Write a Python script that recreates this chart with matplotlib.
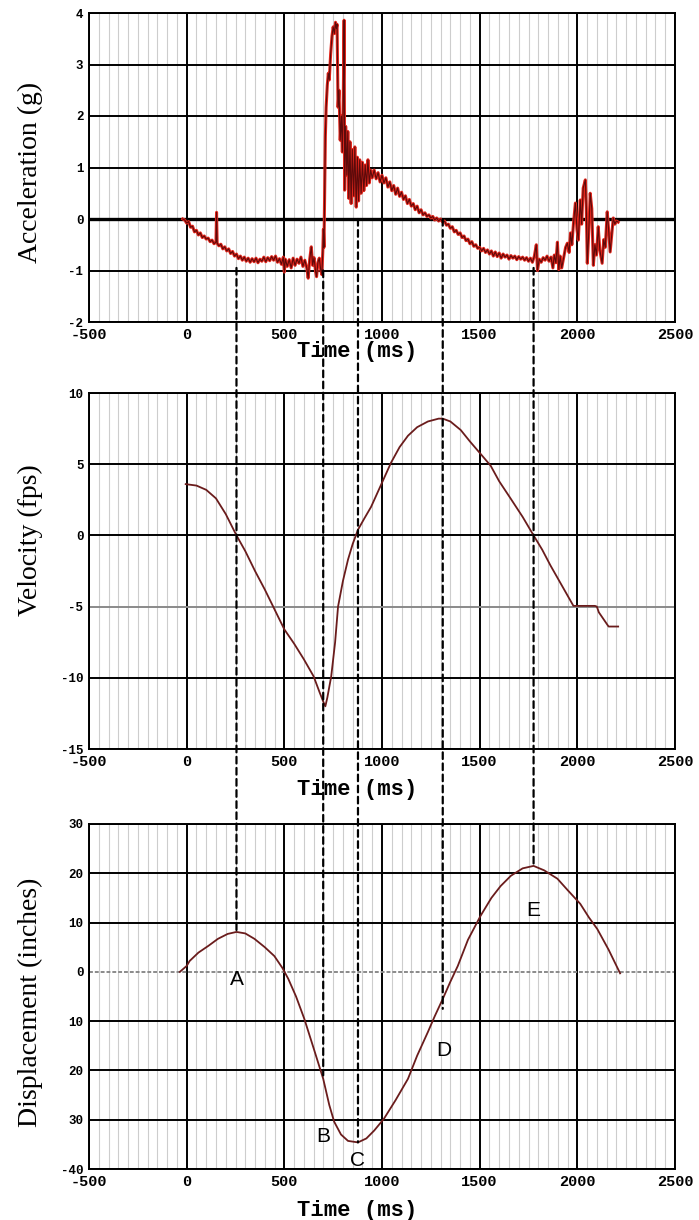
import matplotlib
matplotlib.use("Agg")
import matplotlib.pyplot as plt
from matplotlib.ticker import MultipleLocator
from matplotlib.patches import ConnectionPatch

# styling
plt.rcParams["axes.unicode_minus"] = False
SERIF = "Liberation Serif"
MONO = "Liberation Mono"
SANS = "Liberation Sans"
RED = "#e3261c"
DARK_RED = "#5c0a0a"
MAROON = "#6a1c1c"
GRID_MINOR = "#cdcdcd"

# acceleration trace (ms, g)
acc_t = [-20, -10, 0, 10, 20, 30, 40, 50, 60, 70, 80, 90, 100, 110, 120, 130, 140, 150, 153, 156,
         165, 175, 185, 195, 205, 215, 225, 235, 245, 255, 265, 275, 285, 295, 305, 315, 325, 335,
         345, 355, 365, 375, 385, 395, 405, 415, 425, 435, 445, 455, 465, 475, 485, 495, 500, 505,
         515, 525, 535, 545, 555, 565, 575, 585, 595, 605, 615, 622, 630, 638, 645, 652, 660, 665,
         672, 679, 686, 692, 697, 700, 703, 706, 710, 714, 720, 725, 730, 737, 744, 750, 756, 762,
         766, 770, 775, 780, 786, 792, 797, 802, 806, 809, 814, 820, 825, 830, 836, 842, 848, 855,
         861, 868, 874, 880, 886, 893, 900, 907, 914, 921, 928, 935, 942, 950, 960, 970, 980, 990,
         1000, 1010, 1020, 1030, 1040, 1050, 1060, 1070, 1080, 1090, 1100, 1110, 1120, 1130, 1140,
         1150, 1160, 1170, 1180, 1190, 1200, 1210, 1220, 1230, 1240, 1250, 1260, 1270, 1280, 1290,
         1300, 1310, 1320, 1330, 1340, 1350, 1360, 1370, 1380, 1390, 1400, 1410, 1420, 1430, 1440,
         1450, 1460, 1470, 1480, 1490, 1500, 1510, 1520, 1530, 1540, 1550, 1560, 1570, 1580, 1590,
         1600, 1610, 1620, 1630, 1640, 1650, 1660, 1670, 1680, 1690, 1700, 1710, 1720, 1730, 1740,
         1750, 1760, 1770, 1780, 1790, 1796, 1805, 1815, 1825, 1835, 1845, 1855, 1865, 1875, 1882,
         1890, 1898, 1905, 1912, 1920, 1930, 1940, 1949, 1958, 1965, 1972, 1980, 1990, 1998, 2005,
         2015, 2022, 2030, 2041, 2046, 2051, 2058, 2066, 2074, 2082, 2090, 2098, 2107, 2115, 2127,
         2135, 2143, 2153, 2160, 2168, 2176, 2184, 2192, 2200, 2209]
acc_g = [0.00, -0.02, -0.08, -0.05, -0.16, -0.14, -0.25, -0.22, -0.31, -0.27, -0.36, -0.33, -0.39,
         -0.37, -0.44, -0.41, -0.48, -0.45, 0.13, -0.47, -0.52, -0.49, -0.58, -0.54, -0.62, -0.58,
         -0.67, -0.63, -0.72, -0.68, -0.77, -0.72, -0.80, -0.74, -0.82, -0.76, -0.84, -0.77, -0.83,
         -0.76, -0.85, -0.78, -0.82, -0.74, -0.83, -0.75, -0.81, -0.73, -0.80, -0.72, -0.84, -0.77,
         -0.88, -0.74, -1.03, -0.78, -0.92, -0.79, -0.95, -0.76, -0.90, -0.78, -0.86, -0.74, -0.92,
         -0.80, -0.95, -1.15, -0.78, -0.54, -0.90, -0.75, -1.02, -1.12, -0.84, -0.76, -0.98, -1.08,
         -0.62, -0.20, -0.55, 0.40, 1.60, 2.17, 2.60, 2.83, 2.70, 3.20, 3.55, 3.73, 3.60, 3.82, 3.70,
         3.78, 2.17, 2.50, 1.53, 2.00, 1.30, 2.40, 3.86, 0.56, 1.80, 0.85, 1.70, 0.40, 1.50, 0.30,
         1.35, 0.45, 1.40, 0.23, 1.20, 0.35, 1.15, 0.50, 1.10, 0.55, 1.05, 0.65, 1.15, 0.70, 0.95,
         0.80, 0.95, 0.78, 0.90, 0.72, 0.85, 0.70, 0.80, 0.62, 0.72, 0.55, 0.65, 0.48, 0.60, 0.44,
         0.52, 0.38, 0.45, 0.30, 0.38, 0.25, 0.30, 0.18, 0.25, 0.12, 0.18, 0.08, 0.12, 0.05, 0.08,
         0.02, 0.05, -0.02, 0.02, -0.04, 0.00, -0.06, -0.04, -0.12, -0.10, -0.18, -0.15, -0.25,
         -0.22, -0.30, -0.27, -0.36, -0.33, -0.42, -0.39, -0.48, -0.44, -0.53, -0.50, -0.57, -0.55,
         -0.62, -0.57, -0.65, -0.60, -0.68, -0.62, -0.72, -0.64, -0.73, -0.66, -0.76, -0.68, -0.74,
         -0.70, -0.78, -0.71, -0.76, -0.72, -0.79, -0.73, -0.78, -0.74, -0.80, -0.75, -0.82, -0.76,
         -0.84, -0.72, -0.50, -1.00, -0.78, -0.84, -0.75, -0.80, -0.72, -0.82, -0.74, -0.95, -0.70,
         -0.85, -0.45, -0.98, -0.72, -0.95, -0.75, -0.55, -0.47, -0.65, -0.27, -0.50, -0.10, 0.31,
         -0.20, -0.41, 0.37, -0.10, 0.60, 0.76, 0.20, -0.86, -0.30, 0.50, 0.20, -0.90, -0.50, -0.70,
         -0.15, -0.60, -0.86, -0.40, -0.55, 0.14, -0.20, -0.64, -0.30, 0.02, -0.10, -0.04, -0.06]

# velocity trace (ms, fps)
vel_t = [-5, 50, 100, 150, 200, 255, 300, 350, 400, 450, 500, 550, 600, 650, 680, 700, 710, 720,
         740, 760, 775, 800, 826, 850, 877, 910, 944, 1000, 1046, 1090, 1133, 1180, 1235, 1290,
         1311, 1350, 1403, 1450, 1500, 1556, 1600, 1658, 1720, 1776, 1820, 1862, 1920, 1980, 2040,
         2090, 2100, 2110, 2150, 2160, 2209]
vel_fps = [3.6, 3.5, 3.2, 2.6, 1.5, 0.0, -1.1, -2.5, -3.8, -5.2, -6.6, -7.6, -8.7, -9.9, -11.0,
           -11.7, -12.0, -11.4, -9.9, -7.5, -5.0, -3.2, -1.7, -0.6, 0.4, 1.2, 2.0, 3.7, 5.1, 6.2,
           7.0, 7.6, 8.0, 8.2, 8.2, 8.0, 7.4, 6.6, 5.8, 4.9, 3.8, 2.6, 1.3, 0.0, -1.0, -2.1, -3.5,
           -4.95, -4.95, -4.95, -5.0, -5.4, -6.2, -6.4, -6.4]

# displacement trace (ms, inches)
disp_t = [-35, 0, 15, 60, 112, 160, 210, 255, 300, 347, 400, 449, 490, 520, 560, 602, 650, 699,
          730, 755, 790, 826, 877, 920, 960, 1010, 1070, 1133, 1180, 1235, 1270, 1311, 1350, 1388,
          1440, 1505, 1560, 1607, 1660, 1720, 1776, 1830, 1898, 1950, 2015, 2060, 2102, 2160, 2219]
disp_in = [0.0, 1.2, 2.2, 3.9, 5.3, 6.7, 7.7, 8.1, 7.8, 6.7, 5.0, 3.2, 0.8, -1.4, -5.0, -9.5,
           -15.5, -21.7, -27.0, -30.4, -33.0, -34.3, -34.6, -33.8, -32.2, -29.8, -26.0, -21.7,
           -17.0, -12.2, -9.0, -5.5, -2.0, 1.2, 6.5, 11.4, 15.0, 17.4, 19.5, 21.0, 21.5, 20.6, 18.9,
           16.6, 13.8, 11.0, 8.7, 4.5, -0.3]

# events linking the three panels
event_names = ["A", "B", "C", "D", "E"]
event_t = [255, 699, 877, 1311, 1776]
event_acc = [-0.95, -1.0, 0.0, 0.0, -0.95]
event_disp = [8.5, -21.0, -34.6, -7.5, 21.5]

x_ticks = [-500, 0, 500, 1000, 1500, 2000, 2500]
acc_ticks = [-2, -1, 0, 1, 2, 3, 4]
vel_ticks = [-15, -10, -5, 0, 5, 10]
disp_ticks = [-40, -30, -20, -10, 0, 10, 20, 30]
disp_ticklabels = ["-40", "30", "20", "10", "0", "10", "20", "30"]

W, H = 699, 1220
fig = plt.figure(figsize=(W / 100, H / 100), dpi=100)
fig.patch.set_facecolor("white")


def frac(left, top, right, bottom):
    return [left / W, 1 - bottom / H, (right - left) / W, (bottom - top) / H]


ax1 = fig.add_axes(frac(89, 13, 675, 322))
ax2 = fig.add_axes(frac(89, 393, 675, 749))
ax3 = fig.add_axes(frac(89, 824, 675, 1169))


def style_axes(ax, yticks, ylabel, label_y, xlabel_y, yticklabels=None):
    ax.set_xlim(-500, 2500)
    ax.set_ylim(yticks[0], yticks[-1])
    ax.set_xticks(x_ticks)
    ax.set_yticks(yticks)
    if yticklabels is not None:
        ax.set_yticklabels(yticklabels)
    ax.xaxis.set_minor_locator(MultipleLocator(50))
    ax.grid(which="major", color="black", linewidth=1.4)
    ax.grid(which="minor", axis="x", color=GRID_MINOR, linewidth=0.8)
    ax.set_axisbelow(True)
    ax.tick_params(which="both", length=0)
    ax.tick_params(axis="x", pad=4)
    ax.tick_params(axis="y", pad=4)
    for lab in ax.get_xticklabels():
        lab.set_fontfamily(MONO)
        lab.set_fontsize(11)
        lab.set_fontweight("bold")
    for lab in ax.get_yticklabels():
        lab.set_fontfamily(MONO)
        lab.set_fontsize(9)
        lab.set_fontweight("bold")
    for sp in ax.spines.values():
        sp.set_linewidth(1.4)
        sp.set_color("black")
    ax.set_ylabel(ylabel, fontfamily=SERIF, fontsize=20, va="center")
    ax.yaxis.set_label_coords(-0.10, label_y)
    ax.set_xlabel("Time (ms)", fontfamily=MONO, fontsize=16, fontweight="bold", va="center")
    ax.xaxis.set_label_coords(0.457, xlabel_y)


style_axes(ax1, acc_ticks, "Acceleration (g)", 0.485, -0.097)
style_axes(ax2, vel_ticks, "Velocity (fps)", 0.587, -0.115)
style_axes(ax3, disp_ticks, "Displacement (inches)", 0.484, -0.119, disp_ticklabels)

# a few of the gridlines look different in the scan
ax1.get_ygridlines()[acc_ticks.index(0)].set_linewidth(2.4)
ax2.get_ygridlines()[vel_ticks.index(-5)].set_color("#8a8a8a")
ax3.get_ygridlines()[disp_ticks.index(0)].set_color("#8a8a8a")
ax3.get_ygridlines()[disp_ticks.index(0)].set_linestyle((0, (2, 1)))

# curves
ax1.plot(acc_t, acc_g, color=RED, linewidth=2.2, zorder=3)
ax1.plot(acc_t, acc_g, color=DARK_RED, linewidth=0.8, zorder=4)
ax2.plot(vel_t, vel_fps, color=MAROON, linewidth=1.3, zorder=3)
ax3.plot(disp_t, disp_in, color=MAROON, linewidth=1.3, zorder=3)

# point letters on the displacement panel
label_pos = [(255, -1.5), (699, -33.5), (877, -38.3), (1316, -16.0), (1776, 12.4)]
for name, (lx, ly) in zip(event_names, label_pos):
    ax3.text(lx, ly, name, fontfamily=SANS, fontsize=15, ha="center", va="center", zorder=5)

# dashed connectors from acceleration down to displacement
for t, a, d in zip(event_t, event_acc, event_disp):
    con = ConnectionPatch(xyA=(t, a), coordsA=ax1.transData,
                          xyB=(t, d), coordsB=ax3.transData,
                          color="black", linewidth=1.6, linestyle=(0, (3, 2)), zorder=10)
    fig.add_artist(con)

fig.savefig("out.png", dpi=100, facecolor="white")
